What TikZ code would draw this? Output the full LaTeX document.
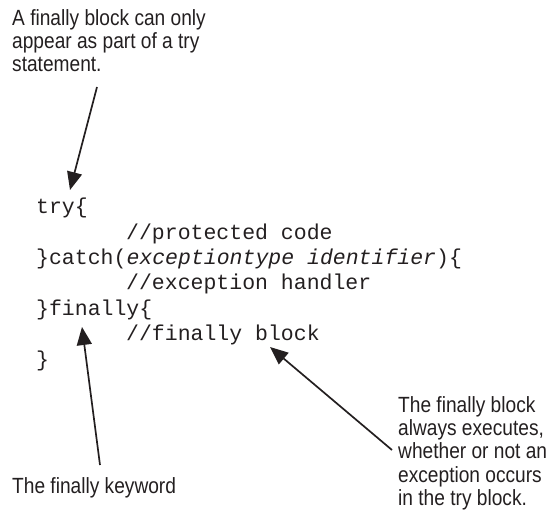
\documentclass[tikz,border=0pt]{standalone}
\usepackage{fontspec}
\setmainfont[FakeStretch=0.87]{Liberation Sans}
\setmonofont{Liberation Mono}
\usetikzlibrary{arrows.meta}
\definecolor{ink}{HTML}{231F20}
\begin{document}
\begin{tikzpicture}[x=1pt,y=1pt,
  note/.style={inner sep=0pt, align=left, font=\fontsize{22pt}{23.3pt}\selectfont, text=ink, anchor=north west},
  code/.style={inner sep=0pt, align=left, font=\fontsize{21.5pt}{25.4pt}\selectfont\ttfamily, anchor=north west, text=ink},
  pointer/.style={line width=1.7pt, draw=ink, -{Triangle[length=18pt,width=15pt]}}]
\useasboundingbox (0,0) rectangle (547,-519);
\node[note] (top) at (12,-9) {A finally block can only\\appear as part of a try\\statement.};
\node[code] (src) at (36,-198) {try\{\\
\hspace*{90pt}//protected code\\
\}catch(\textit{exceptiontype identifier})\{\\
\hspace*{90pt}//exception handler\\
\}finally\{\\
\hspace*{90pt}//finally block\\
\}};
\node[note] (kw) at (12,-477) {The finally keyword};
\node[note] (blk) at (398,-396) {The finally block\\always executes,\\whether or not an\\exception occurs\\in the try block.};
\coordinate (a1s) at (97,-87);
\coordinate (a1e) at (70,-190);
\coordinate (a2s) at (100,-465);
\coordinate (a2e) at (82,-327);
\coordinate (a3s) at (392,-450);
\coordinate (a3e) at (270,-347);
\draw[pointer] (a1s) -- (a1e);
\draw[pointer] (a2s) -- (a2e);
\draw[pointer] (a3s) -- (a3e);
\end{tikzpicture}
\end{document}
